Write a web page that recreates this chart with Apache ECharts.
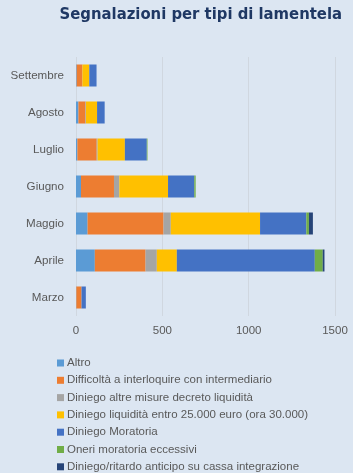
<!DOCTYPE html>
<html>
<head>
<meta charset="utf-8">
<script src="https://cdn.jsdelivr.net/npm/echarts@6/dist/echarts.min.js"></script>
<style>
  html, body { margin: 0; padding: 0; background: #dce6f2; }
  #chart { width: 353px; height: 473px; }
</style>
</head>
<body>
<div id="chart"></div>
<script>
// months, bottom to top
const months = ['Marzo', 'Aprile', 'Maggio', 'Giugno', 'Luglio', 'Agosto', 'Settembre']

const altro = [2, 109, 67, 29, 8, 14, 4]
const difficolta = [30, 294, 440, 191, 112, 41, 33]
const diniegoAltre = [0, 65, 42, 31, 5, 3, 0]
const diniegoLiquidita = [0, 116, 517, 282, 158, 64, 40]
const diniegoMoratoria = [25, 799, 268, 152, 127, 44, 42]
const oneriMoratoria = [0, 46, 15, 8, 4, 0, 0]
const diniegoCassa = [0, 10, 23, 0, 0, 0, 0]

const xTicks = [0, 500, 1000, 1500]

const seriesDefs = [
  { name: 'Altro', data: altro, color: '#5b9bd5' },
  { name: 'Difficoltà a interloquire con intermediario', data: difficolta, color: '#ed7d31' },
  { name: 'Diniego altre misure decreto liquidità', data: diniegoAltre, color: '#a5a5a5' },
  { name: 'Diniego liquidità entro 25.000 euro (ora 30.000)', data: diniegoLiquidita, color: '#ffc000' },
  { name: 'Diniego Moratoria', data: diniegoMoratoria, color: '#4472c4' },
  { name: 'Oneri moratoria eccessivi', data: oneriMoratoria, color: '#70ad47' },
  { name: 'Diniego/ritardo anticipo su cassa integrazione', data: diniegoCassa, color: '#264478' }
]

const chart = echarts.init(document.getElementById('chart'))

const font = '"Liberation Sans", Arial, sans-serif'

chart.setOption({
  backgroundColor: '#dce6f2',
  animation: false,
  title: {
    text: 'Segnalazioni per tipi di lamentela',
    right: 6,
    top: 1,
    textStyle: {
      fontFamily: '"DejaVu Sans Condensed", "DejaVu Sans", sans-serif',
      fontWeight: 'bold',
      fontSize: 16.5,
      color: '#1f3864'
    }
  },
  legend: {
    orient: 'vertical',
    left: 52,
    top: 352,
    height: 130,
    itemWidth: 7,
    itemHeight: 7,
    itemGap: 5.3,
    icon: 'rect',
    textStyle: { fontFamily: font, fontSize: 11.5, lineHeight: 12, color: '#595959', padding: [0, 0, 0, -2] },
    data: seriesDefs.map(s => s.name)
  },
  grid: { left: 76, right: 18, top: 57, height: 259, containLabel: false },
  xAxis: {
    type: 'value',
    min: xTicks[0],
    max: xTicks[xTicks.length - 1],
    interval: 500,
    axisLine: { show: false },
    axisTick: { show: false },
    axisLabel: { fontFamily: font, fontSize: 11.5, color: '#595959', margin: 9, formatter: v => String(v) },
    splitLine: { lineStyle: { color: '#d0d7e0', width: 1 } }
  },
  yAxis: {
    type: 'category',
    data: months,
    axisLine: { show: false },
    axisTick: { show: false },
    axisLabel: { fontFamily: font, fontSize: 11.6, color: '#595959', margin: 12 }
  },
  series: seriesDefs.map(s => ({
    name: s.name,
    type: 'bar',
    stack: 'tot',
    barWidth: 22,
    data: s.data,
    itemStyle: { color: s.color }
  }))
})
</script>
</body>
</html>
